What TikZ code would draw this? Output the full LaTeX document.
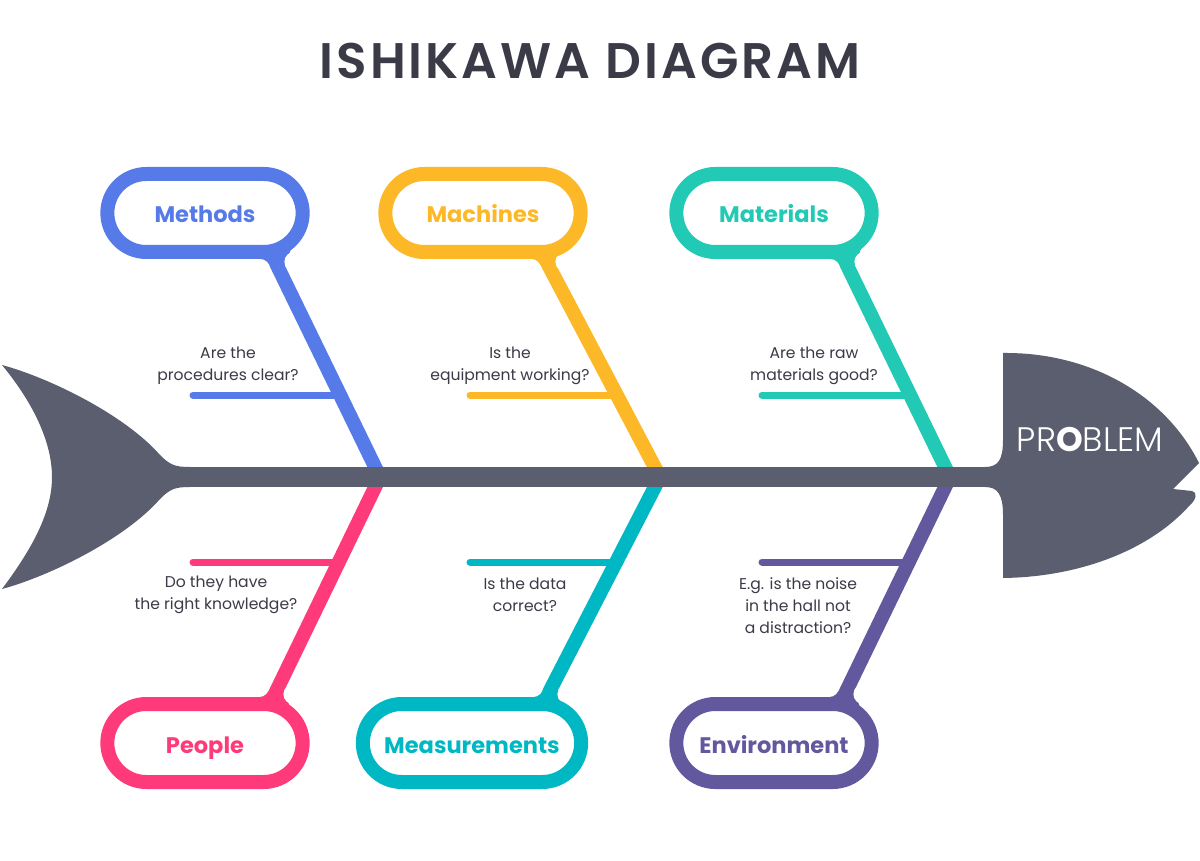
\documentclass[tikz,border=0pt]{standalone}
\usepackage{fontspec}
\setmainfont{Poppins}
\newfontfamily\semifont{Poppins}[UprightFont=* SemiBold]
\newfontfamily\lightfont{Poppins}[UprightFont=* Light, BoldFont=* Bold]
\usetikzlibrary{shapes.misc}

\definecolor{fishgray}{HTML}{5B5E6E}
\definecolor{textdark}{HTML}{3B3B48}
\definecolor{methblue}{HTML}{567AE8}
\definecolor{machorange}{HTML}{FDB827}
\definecolor{matteal}{HTML}{22C9B5}
\definecolor{peoppink}{HTML}{FF3A7A}
\definecolor{meascyan}{HTML}{00B8C4}
\definecolor{envpurple}{HTML}{62589E}

\tikzset{
  pill/.style={rounded rectangle, draw=#1, line width=14pt, fill=white,
    minimum width=202pt, minimum height=78pt, text=#1,
    text height=20pt, text depth=0pt,
    font=\fontsize{22.5}{26}\selectfont\bfseries},
  bone/.style={draw=#1, line width=14pt},
  twig/.style={draw=#1, line width=7pt, line cap=round},
  note/.style={align=center, text=textdark, font=\fontsize{15.6}{22}\selectfont},
  % rounded joint where a bone meets its pill (pill is drawn on top)
  pics/joint/.style={code={
    \fill[#1] (-13.96,-20) -- (-13.96,0) -- (-5.03,5.5) -- (11.49,7.32)
      -- (15.52,-5.9) -- (20,-20) -- cycle;
    \fill[white] (-13.96,10) circle[radius=10] (20.42,2.82) circle[radius=10];}},
}

\begin{document}
\begin{tikzpicture}[x=1pt, y=-1pt]
    \useasboundingbox[fill=white] (0,0) rectangle (1200,861);

    \node[text=textdark, font=\fontsize{50}{58}\semifont\addfontfeatures{LetterSpace=6}] (title) at (590,61) {ISHIKAWA DIAGRAM};

    % spine points
    \coordinate (sA) at (380,477);
    \coordinate (sB) at (660,477);
    \coordinate (sC) at (950,477);

    % twigs
    \draw[twig=methblue] (193,395) coordinate (tA) -- (340,395) coordinate (tAe);
    \draw[twig=machorange] (470,395) coordinate (tB) -- (620,395) coordinate (tBe);
    \draw[twig=matteal] (762,395) coordinate (tC) -- (910,395) coordinate (tCe);
    \draw[twig=peoppink] (193,562) coordinate (tD) -- (340,562) coordinate (tDe);
    \draw[twig=meascyan] (470,562) coordinate (tE) -- (620,562) coordinate (tEe);
    \draw[twig=envpurple] (762,562) coordinate (tF) -- (910,562) coordinate (tFe);

    % bones
    \draw[bone=methblue] (sA) -- (272,255) coordinate (bA);
    \draw[bone=machorange] (sB) -- (543,255) coordinate (bB);
    \draw[bone=matteal] (sC) -- (842,255) coordinate (bC);
    \draw[bone=peoppink] (sA) -- (270,704) coordinate (bD);
    \draw[bone=meascyan] (sB) -- (543,704) coordinate (bE);
    \draw[bone=envpurple] (sC) -- (840,704) coordinate (bF);

    % joints between bone and pill
    \pic at (274,259) {joint=methblue};
    \pic at (545,259) {joint=machorange};
    \pic at (844,259) {joint=matteal};
    \pic[yscale=-1] at (273,697) {joint=peoppink};
    \pic[yscale=-1] at (547,697) {joint=meascyan};
    \pic[yscale=-1] at (843,697) {joint=envpurple};

    % category pills
    \node[pill=methblue] (methods) at (205,213) {Methods};
    \node[pill=machorange] (machines) at (483,213) {Machines};
    \node[pill=matteal] (materials) at (774,213) {Materials};
    \node[pill=peoppink] (people) at (205,743) {People};
    \node[pill=meascyan, minimum width=225pt] (measures) at (472,743) {Measurements};
    \node[pill=envpurple] (environ) at (774,743) {Environment};

    % questions
    \node[note] (qA) at (228,366) {Are the\\procedures clear?};
    \node[note] (qB) at (510,366) {Is the\\equipment working?};
    \node[note] (qC) at (814,366) {Are the raw\\materials good?};
    \node[note] (qD) at (216,595) {Do they have\\the right knowledge?};
    \node[note] (qE) at (525,595) {Is the data\\correct?};
    \node[note] (qF) at (798,606) {E.g. is the noise\\in the hall not\\a distraction?};

    % tail
    \fill[fishgray] (2,365) .. controls (50,378) and (125,415) .. (160,455)
      .. controls (170,465) and (175,467) .. (190,467) -- (190,487)
      .. controls (175,487) and (170,489) .. (160,499)
      .. controls (125,539) and (50,576) .. (2,589)
      .. controls (35,545) and (52,510) .. (52,477)
      .. controls (52,444) and (35,405) .. cycle;

    % spine
    \fill[fishgray] (185,467) rectangle (995,487);

    % head
    \fill[fishgray] (1003,353) .. controls (1090,352) and (1165,395) .. (1199,463)
      -- (1173,489) -- (1192,491) .. controls (1198,492) and (1196,500) .. (1190,505)
      .. controls (1150,550) and (1080,577) .. (1003,578)
      -- (1003,515) .. controls (1003,495) and (998,487) .. (985,487)
      -- (985,467) .. controls (998,467) and (1003,460) .. (1003,440) -- cycle;
    \node[text=white, font=\fontsize{34}{38}\lightfont] (problem) at (1090,440) {PR\textbf{O}BLEM};

      % \draw[help lines](0,0) grid[step=50] (1200,861);
  \end{tikzpicture}
\end{document}
